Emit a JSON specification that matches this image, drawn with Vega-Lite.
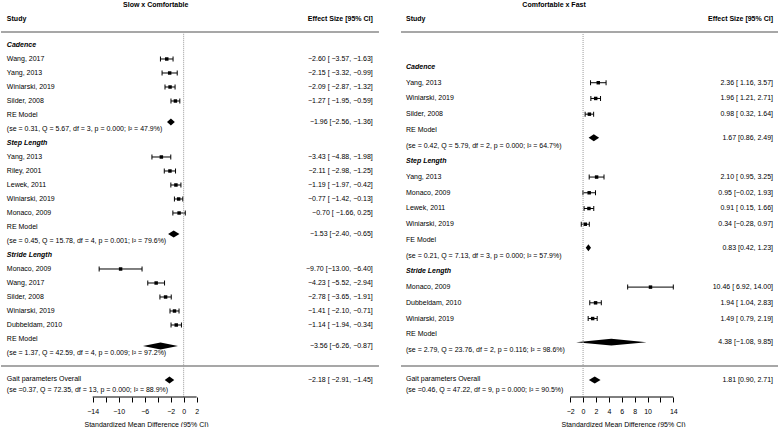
{
  "$schema": "https://vega.github.io/schema/vega-lite/v6.json",
  "padding": 0,
  "spacing": 0,
  "bounds": "flush",
  "config": {
    "font": "Liberation Sans",
    "view": {"stroke": null},
    "concat": {"spacing": 0},
    "text": {"fontSize": 7, "baseline": "middle", "color": "black", "font": "Liberation Sans"},
    "axis": {
      "grid": false, "domain": false,
      "labelFont": "Liberation Sans", "labelFontSize": 7, "labelColor": "black",
      "tickColor": "black", "tickSize": 5, "labelPadding": 5, "labelOverlap": false,
      "titleFont": "Liberation Sans", "titleFontSize": 7, "titleFontWeight": "normal",
      "titleColor": "black", "titlePadding": 6
    }
  },
  "datasets": {
    "L_studies": [
      {"row": 1, "study": "Wang, 2017", "est": -2.60, "lb": -3.57, "ub": -1.63, "es": "−2.60 [ −3.57, −1.63]"},
      {"row": 2, "study": "Yang, 2013", "est": -2.15, "lb": -3.32, "ub": -0.99, "es": "−2.15 [ −3.32, −0.99]"},
      {"row": 3, "study": "Winiarski, 2019", "est": -2.09, "lb": -2.87, "ub": -1.32, "es": "−2.09 [ −2.87, −1.32]"},
      {"row": 4, "study": "Silder, 2008", "est": -1.27, "lb": -1.95, "ub": -0.59, "es": "−1.27 [ −1.95, −0.59]"},
      {"row": 8, "study": "Yang, 2013", "est": -3.43, "lb": -4.88, "ub": -1.98, "es": "−3.43 [ −4.88, −1.98]"},
      {"row": 9, "study": "Riley, 2001", "est": -2.11, "lb": -2.98, "ub": -1.25, "es": "−2.11 [ −2.98, −1.25]"},
      {"row": 10, "study": "Lewek, 2011", "est": -1.19, "lb": -1.97, "ub": -0.42, "es": "−1.19 [ −1.97, −0.42]"},
      {"row": 11, "study": "Winiarski, 2019", "est": -0.77, "lb": -1.42, "ub": -0.13, "es": "−0.77 [ −1.42, −0.13]"},
      {"row": 12, "study": "Monaco, 2009", "est": -0.70, "lb": -1.66, "ub": 0.25, "es": "−0.70 [ −1.66,  0.25]"},
      {"row": 16, "study": "Monaco, 2009", "est": -9.70, "lb": -13.00, "ub": -6.40, "es": "−9.70 [−13.00, −6.40]"},
      {"row": 17, "study": "Wang, 2017", "est": -4.23, "lb": -5.52, "ub": -2.94, "es": "−4.23 [ −5.52, −2.94]"},
      {"row": 18, "study": "Silder, 2008", "est": -2.78, "lb": -3.65, "ub": -1.91, "es": "−2.78 [ −3.65, −1.91]"},
      {"row": 19, "study": "Winiarski, 2019", "est": -1.41, "lb": -2.10, "ub": -0.71, "es": "−1.41 [ −2.10, −0.71]"},
      {"row": 20, "study": "Dubbeldam, 2010", "est": -1.14, "lb": -1.94, "ub": -0.34, "es": "−1.14 [ −1.94, −0.34]"}
    ],
    "L_groups": [
      {"row": 0, "label": "Cadence"},
      {"row": 7, "label": "Step Length"},
      {"row": 15, "label": "Stride Length"}
    ],
    "L_models": [
      {"label": "RE Model", "row": 5, "stats": "(se = 0.31, Q = 5.67, df = 3, p = 0.000; I² = 47.9%)", "srow": 6, "es": "−1.96 [−2.56, −1.36]", "erow": 5.5},
      {"label": "RE Model", "row": 13, "stats": "(se = 0.45, Q = 15.78, df = 4, p = 0.001; I² = 79.6%)", "srow": 14, "es": "−1.53 [−2.40, −0.65]", "erow": 13.5},
      {"label": "RE Model", "row": 21, "stats": "(se = 1.37, Q = 42.59, df = 4, p = 0.009; I² = 97.2%)", "srow": 22, "es": "−3.56 [−6.26, −0.87]", "erow": 21.5},
      {"label": "Gait parameters Overall", "row": 23.86, "stats": "(se =0.37, Q = 72.35, df = 13, p = 0.000; I² = 88.9%)", "srow": 24.64, "es": "−2.18 [ −2.91, −1.45]", "erow": 23.93}
    ],
    "L_diamonds": [
      {"id": "cad", "x": -2.56, "ylo": 5.5, "yhi": 5.5},
      {"id": "cad", "x": -1.96, "ylo": 5.25, "yhi": 5.75},
      {"id": "cad", "x": -1.36, "ylo": 5.5, "yhi": 5.5},
      {"id": "step", "x": -2.40, "ylo": 13.5, "yhi": 13.5},
      {"id": "step", "x": -1.53, "ylo": 13.25, "yhi": 13.75},
      {"id": "step", "x": -0.65, "ylo": 13.5, "yhi": 13.5},
      {"id": "stride", "x": -6.26, "ylo": 21.5, "yhi": 21.5},
      {"id": "stride", "x": -3.56, "ylo": 21.25, "yhi": 21.75},
      {"id": "stride", "x": -0.87, "ylo": 21.5, "yhi": 21.5},
      {"id": "overall", "x": -2.91, "ylo": 23.93, "yhi": 23.93},
      {"id": "overall", "x": -2.18, "ylo": 23.68, "yhi": 24.18},
      {"id": "overall", "x": -1.45, "ylo": 23.93, "yhi": 23.93}
    ],
    "R_studies": [
      {"row": 1, "study": "Yang, 2013", "est": 2.36, "lb": 1.16, "ub": 3.57, "es": "2.36 [ 1.16,  3.57]"},
      {"row": 2, "study": "Winiarski, 2019", "est": 1.96, "lb": 1.21, "ub": 2.71, "es": "1.96 [ 1.21,  2.71]"},
      {"row": 3, "study": "Silder, 2008", "est": 0.98, "lb": 0.32, "ub": 1.64, "es": "0.98 [ 0.32,  1.64]"},
      {"row": 7, "study": "Yang, 2013", "est": 2.10, "lb": 0.95, "ub": 3.25, "es": "2.10 [ 0.95,  3.25]"},
      {"row": 8, "study": "Monaco, 2009", "est": 0.95, "lb": -0.02, "ub": 1.93, "es": "0.95 [−0.02,  1.93]"},
      {"row": 9, "study": "Lewek, 2011", "est": 0.91, "lb": 0.15, "ub": 1.66, "es": "0.91 [ 0.15,  1.66]"},
      {"row": 10, "study": "Winiarski, 2019", "est": 0.34, "lb": -0.28, "ub": 0.97, "es": "0.34 [−0.28,  0.97]"},
      {"row": 14, "study": "Monaco, 2009", "est": 10.46, "lb": 6.92, "ub": 14.00, "es": "10.46 [ 6.92, 14.00]"},
      {"row": 15, "study": "Dubbeldam, 2010", "est": 1.94, "lb": 1.04, "ub": 2.83, "es": "1.94 [ 1.04,  2.83]"},
      {"row": 16, "study": "Winiarski, 2019", "est": 1.49, "lb": 0.79, "ub": 2.19, "es": "1.49 [ 0.79,  2.19]"}
    ],
    "R_groups": [
      {"row": 0, "label": "Cadence"},
      {"row": 6, "label": "Step Length"},
      {"row": 13, "label": "Stride Length"}
    ],
    "R_models": [
      {"label": "RE Model", "row": 4, "stats": "(se = 0.42, Q = 5.79, df = 2, p = 0.000; I² = 64.7%)", "srow": 5, "es": "1.67 [0.86, 2.49]", "erow": 4.5},
      {"label": "FE Model", "row": 11, "stats": "(se = 0.21, Q = 7.13, df = 3, p = 0.000; I² = 57.9%)", "srow": 12, "es": "0.83 [0.42, 1.23]", "erow": 11.5},
      {"label": "RE Model", "row": 17, "stats": "(se = 2.79, Q = 23.76, df = 2, p = 0.116; I² = 98.6%)", "srow": 18, "es": "4.38 [−1.08, 9.85]", "erow": 17.5},
      {"label": "Gait parameters Overall", "row": 19.85, "stats": "(se =0.46, Q = 47.22, df = 9, p = 0.000; I² = 90.5%)", "srow": 20.55, "es": "1.81 [0.90, 2.71]", "erow": 19.91}
    ],
    "R_diamonds": [
      {"id": "cad", "x": 0.86, "ylo": 4.5, "yhi": 4.5},
      {"id": "cad", "x": 1.67, "ylo": 4.28, "yhi": 4.72},
      {"id": "cad", "x": 2.49, "ylo": 4.5, "yhi": 4.5},
      {"id": "step", "x": 0.42, "ylo": 11.5, "yhi": 11.5},
      {"id": "step", "x": 0.83, "ylo": 11.28, "yhi": 11.72},
      {"id": "step", "x": 1.23, "ylo": 11.5, "yhi": 11.5},
      {"id": "stride", "x": -1.08, "ylo": 17.5, "yhi": 17.5},
      {"id": "stride", "x": 4.38, "ylo": 17.28, "yhi": 17.72},
      {"id": "stride", "x": 9.85, "ylo": 17.5, "yhi": 17.5},
      {"id": "overall", "x": 0.90, "ylo": 19.91, "yhi": 19.91},
      {"id": "overall", "x": 1.81, "ylo": 19.69, "yhi": 20.13},
      {"id": "overall", "x": 2.71, "ylo": 19.91, "yhi": 19.91}
    ]
  },
  "hconcat": [
    {
      "width": 390,
      "height": 397,
      "layer": [
        {
          "data": {"name": "L_studies"},
          "mark": {"type": "rule", "color": "black", "strokeWidth": 1},
          "encoding": {
            "x": {"field": "lb", "type": "quantitative",
              "scale": {"domain": [-28.1, 31.9], "nice": false, "zero": false},
              "axis": {"values": [-14, -12, -10, -8, -6, -4, -2, 0, 2],
                "labelExpr": "indexof([-12, -8, -4], datum.value) >= 0 ? '' : datum.label",
                "title": "Standardized Mean Difference (95% CI)", "titleX": 145}},
            "x2": {"field": "ub"},
            "y": {"field": "row", "type": "quantitative",
              "scale": {"domain": [-3.214, 25.143], "reverse": true, "nice": false, "zero": false},
              "axis": null}
          }
        },
        {
          "data": {"name": "L_studies"},
          "mark": {"type": "tick", "orient": "vertical", "size": 5, "thickness": 1, "color": "black", "opacity": 1},
          "encoding": {
            "x": {"field": "lb", "type": "quantitative"},
            "y": {"field": "row", "type": "quantitative", "axis": null}
          }
        },
        {
          "data": {"name": "L_studies"},
          "mark": {"type": "tick", "orient": "vertical", "size": 5, "thickness": 1, "color": "black", "opacity": 1},
          "encoding": {
            "x": {"field": "ub", "type": "quantitative"},
            "y": {"field": "row", "type": "quantitative", "axis": null}
          }
        },
        {
          "data": {"name": "L_studies"},
          "mark": {"type": "square", "size": 12, "color": "black", "filled": true, "opacity": 1},
          "encoding": {
            "x": {"field": "est", "type": "quantitative"},
            "y": {"field": "row", "type": "quantitative", "axis": null}
          }
        },
        {
          "data": {"name": "L_diamonds"},
          "mark": {"type": "area", "orient": "vertical", "color": "black", "opacity": 1},
          "encoding": {
            "x": {"field": "x", "type": "quantitative"},
            "y": {"field": "ylo", "type": "quantitative", "stack": null, "axis": null},
            "y2": {"field": "yhi"},
            "detail": {"field": "id"}
          }
        },
        {
          "data": {"name": "L_studies"},
          "mark": {"type": "text", "align": "left"},
          "encoding": {
            "x": {"datum": -27.2, "type": "quantitative"},
            "y": {"field": "row", "type": "quantitative", "axis": null},
            "text": {"field": "study"}
          }
        },
        {
          "data": {"name": "L_studies"},
          "mark": {"type": "text", "align": "right"},
          "encoding": {
            "x": {"datum": 29.1, "type": "quantitative"},
            "y": {"field": "row", "type": "quantitative", "axis": null},
            "text": {"field": "es"}
          }
        },
        {
          "data": {"name": "L_groups"},
          "mark": {"type": "text", "align": "left", "fontWeight": "bold", "fontStyle": "italic"},
          "encoding": {
            "x": {"datum": -27.2, "type": "quantitative"},
            "y": {"field": "row", "type": "quantitative", "axis": null},
            "text": {"field": "label"}
          }
        },
        {
          "data": {"name": "L_models"},
          "mark": {"type": "text", "align": "left"},
          "encoding": {
            "x": {"datum": -27.2, "type": "quantitative"},
            "y": {"field": "row", "type": "quantitative", "axis": null},
            "text": {"field": "label"}
          }
        },
        {
          "data": {"name": "L_models"},
          "mark": {"type": "text", "align": "left"},
          "encoding": {
            "x": {"datum": -27.2, "type": "quantitative"},
            "y": {"field": "srow", "type": "quantitative", "axis": null},
            "text": {"field": "stats"}
          }
        },
        {
          "data": {"name": "L_models"},
          "mark": {"type": "text", "align": "right"},
          "encoding": {
            "x": {"datum": 29.1, "type": "quantitative"},
            "y": {"field": "erow", "type": "quantitative", "axis": null},
            "text": {"field": "es"}
          }
        },
        {
          "data": {"values": [{}]},
          "mark": {"type": "text", "align": "center", "fontWeight": "bold"},
          "encoding": {
            "x": {"datum": -4.3, "type": "quantitative"},
            "y": {"datum": -2.857, "type": "quantitative", "axis": null},
            "text": {"value": "Slow x Comfortable"}
          }
        },
        {
          "data": {"values": [{}]},
          "mark": {"type": "text", "align": "left", "fontWeight": "bold"},
          "encoding": {
            "x": {"datum": -27.2, "type": "quantitative"},
            "y": {"datum": -1.857, "type": "quantitative", "axis": null},
            "text": {"value": "Study"}
          }
        },
        {
          "data": {"values": [{}]},
          "mark": {"type": "text", "align": "right", "fontWeight": "bold"},
          "encoding": {
            "x": {"datum": 29.1, "type": "quantitative"},
            "y": {"datum": -1.857, "type": "quantitative", "axis": null},
            "text": {"value": "Effect Size [95% CI]"}
          }
        },
        {
          "data": {"values": [{"r": -0.93}, {"r": 22.93}]},
          "mark": {"type": "rule", "color": "#8a8a8a", "strokeWidth": 1.5},
          "encoding": {
            "x": {"datum": -28.1, "type": "quantitative"},
            "x2": {"datum": 30.05},
            "y": {"field": "r", "type": "quantitative", "axis": null}
          }
        },
        {
          "data": {"values": [{}]},
          "mark": {"type": "rule", "color": "#9a9a9a", "strokeWidth": 1, "strokeDash": [1, 1]},
          "encoding": {
            "x": {"datum": 0, "type": "quantitative"},
            "y": {"datum": -0.8, "type": "quantitative", "axis": null},
            "y2": {"datum": 25.143}
          }
        },
        {
          "data": {"values": [{}]},
          "mark": {"type": "rule", "color": "black", "strokeWidth": 1},
          "encoding": {
            "x": {"datum": -14, "type": "quantitative"},
            "x2": {"datum": 2},
            "y": {"datum": 25.143, "type": "quantitative", "axis": null}
          }
        }
      ]
    },
    {
      "width": 388,
      "height": 397,
      "layer": [
        {
          "data": {"name": "R_studies"},
          "mark": {"type": "rule", "color": "black", "strokeWidth": 1},
          "encoding": {
            "x": {"field": "lb", "type": "quantitative",
              "scale": {"domain": [-29.8, 30.4], "nice": false, "zero": false},
              "axis": {"values": [-2, 0, 2, 4, 6, 8, 10, 12, 14],
                "labelExpr": "datum.value == 12 ? '' : datum.label",
                "title": "Standardized Mean Difference (95% CI)", "titleX": 232}},
            "x2": {"field": "ub"},
            "y": {"field": "row", "type": "quantitative",
              "scale": {"domain": [-4.262, 20.99], "reverse": true, "nice": false, "zero": false},
              "axis": null}
          }
        },
        {
          "data": {"name": "R_studies"},
          "mark": {"type": "tick", "orient": "vertical", "size": 5, "thickness": 1, "color": "black", "opacity": 1},
          "encoding": {
            "x": {"field": "lb", "type": "quantitative"},
            "y": {"field": "row", "type": "quantitative", "axis": null}
          }
        },
        {
          "data": {"name": "R_studies"},
          "mark": {"type": "tick", "orient": "vertical", "size": 5, "thickness": 1, "color": "black", "opacity": 1},
          "encoding": {
            "x": {"field": "ub", "type": "quantitative"},
            "y": {"field": "row", "type": "quantitative", "axis": null}
          }
        },
        {
          "data": {"name": "R_studies"},
          "mark": {"type": "square", "size": 12, "color": "black", "filled": true, "opacity": 1},
          "encoding": {
            "x": {"field": "est", "type": "quantitative"},
            "y": {"field": "row", "type": "quantitative", "axis": null}
          }
        },
        {
          "data": {"name": "R_diamonds"},
          "mark": {"type": "area", "orient": "vertical", "color": "black", "opacity": 1},
          "encoding": {
            "x": {"field": "x", "type": "quantitative"},
            "y": {"field": "ylo", "type": "quantitative", "stack": null, "axis": null},
            "y2": {"field": "yhi"},
            "detail": {"field": "id"}
          }
        },
        {
          "data": {"name": "R_studies"},
          "mark": {"type": "text", "align": "left"},
          "encoding": {
            "x": {"datum": -27.47, "type": "quantitative"},
            "y": {"field": "row", "type": "quantitative", "axis": null},
            "text": {"field": "study"}
          }
        },
        {
          "data": {"name": "R_studies"},
          "mark": {"type": "text", "align": "right"},
          "encoding": {
            "x": {"datum": 29.47, "type": "quantitative"},
            "y": {"field": "row", "type": "quantitative", "axis": null},
            "text": {"field": "es"}
          }
        },
        {
          "data": {"name": "R_groups"},
          "mark": {"type": "text", "align": "left", "fontWeight": "bold", "fontStyle": "italic"},
          "encoding": {
            "x": {"datum": -27.47, "type": "quantitative"},
            "y": {"field": "row", "type": "quantitative", "axis": null},
            "text": {"field": "label"}
          }
        },
        {
          "data": {"name": "R_models"},
          "mark": {"type": "text", "align": "left"},
          "encoding": {
            "x": {"datum": -27.47, "type": "quantitative"},
            "y": {"field": "row", "type": "quantitative", "axis": null},
            "text": {"field": "label"}
          }
        },
        {
          "data": {"name": "R_models"},
          "mark": {"type": "text", "align": "left"},
          "encoding": {
            "x": {"datum": -27.47, "type": "quantitative"},
            "y": {"field": "srow", "type": "quantitative", "axis": null},
            "text": {"field": "stats"}
          }
        },
        {
          "data": {"name": "R_models"},
          "mark": {"type": "text", "align": "right"},
          "encoding": {
            "x": {"datum": 29.47, "type": "quantitative"},
            "y": {"field": "erow", "type": "quantitative", "axis": null},
            "text": {"field": "es"}
          }
        },
        {
          "data": {"values": [{}]},
          "mark": {"type": "text", "align": "center", "fontWeight": "bold"},
          "encoding": {
            "x": {"datum": -4.5, "type": "quantitative"},
            "y": {"datum": -3.944, "type": "quantitative", "axis": null},
            "text": {"value": "Comfortable x Fast"}
          }
        },
        {
          "data": {"values": [{}]},
          "mark": {"type": "text", "align": "left", "fontWeight": "bold"},
          "encoding": {
            "x": {"datum": -27.47, "type": "quantitative"},
            "y": {"datum": -3.053, "type": "quantitative", "axis": null},
            "text": {"value": "Study"}
          }
        },
        {
          "data": {"values": [{}]},
          "mark": {"type": "text", "align": "right", "fontWeight": "bold"},
          "encoding": {
            "x": {"datum": 29.47, "type": "quantitative"},
            "y": {"datum": -3.053, "type": "quantitative", "axis": null},
            "text": {"value": "Effect Size [95% CI]"}
          }
        },
        {
          "data": {"values": [{"r": -2.226}, {"r": 19.02}]},
          "mark": {"type": "rule", "color": "#8a8a8a", "strokeWidth": 1.5},
          "encoding": {
            "x": {"datum": -28.25, "type": "quantitative"},
            "x2": {"datum": 30.25},
            "y": {"field": "r", "type": "quantitative", "axis": null}
          }
        },
        {
          "data": {"values": [{}]},
          "mark": {"type": "rule", "color": "#9a9a9a", "strokeWidth": 1, "strokeDash": [1, 1]},
          "encoding": {
            "x": {"datum": 0, "type": "quantitative"},
            "y": {"datum": -2.1, "type": "quantitative", "axis": null},
            "y2": {"datum": 20.99}
          }
        },
        {
          "data": {"values": [{}]},
          "mark": {"type": "rule", "color": "black", "strokeWidth": 1},
          "encoding": {
            "x": {"datum": -2, "type": "quantitative"},
            "x2": {"datum": 14},
            "y": {"datum": 20.99, "type": "quantitative", "axis": null}
          }
        }
      ]
    }
  ]
}
